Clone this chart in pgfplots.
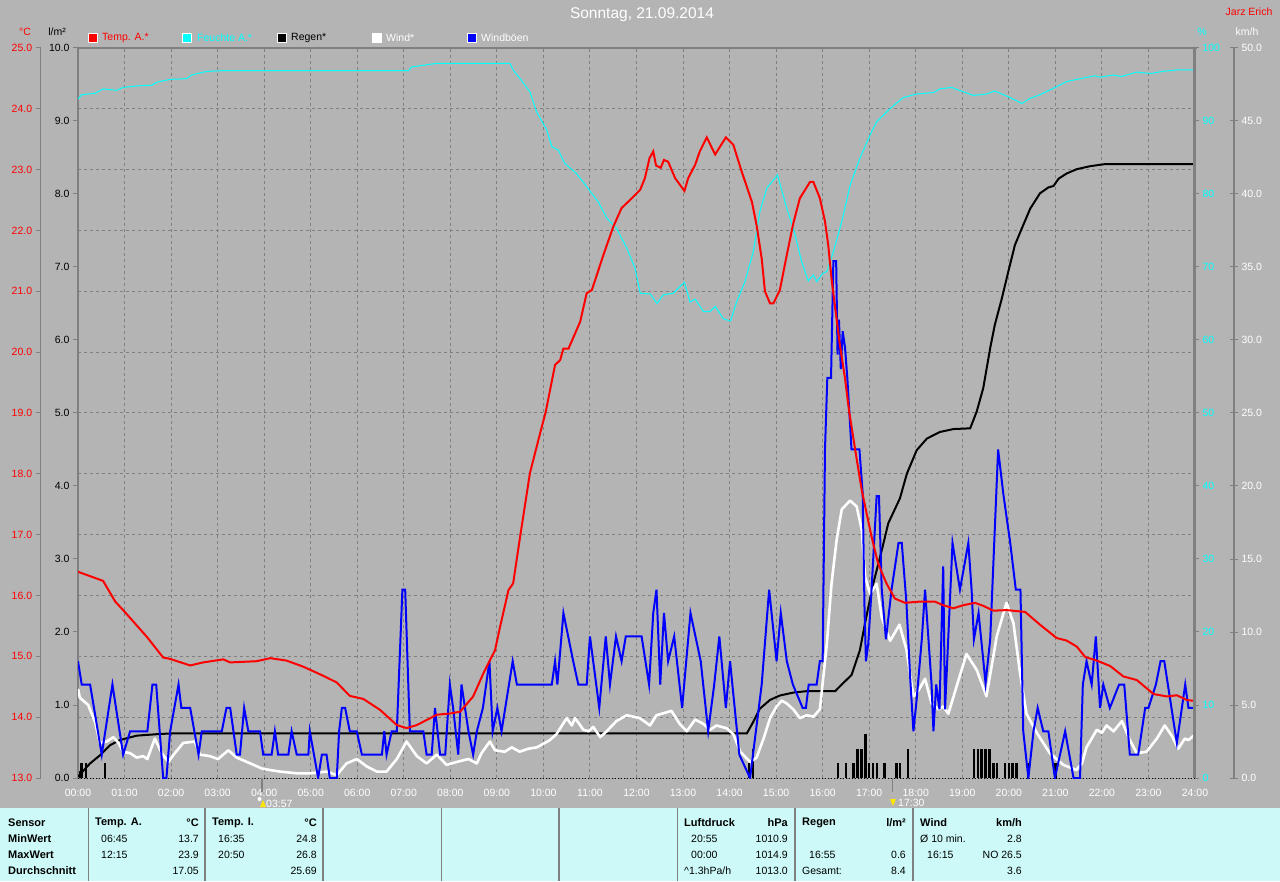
\documentclass[border=0pt]{standalone}
\usepackage{pgfplots}
\pgfplotsset{compat=1.18}
\usepackage{fontspec}
\setmainfont{Liberation Sans}

\definecolor{bg}{RGB}{180,180,180}
\definecolor{gridc}{RGB}{128,128,128}
\definecolor{tab}{RGB}{205,250,248}
\definecolor{aqua}{RGB}{0,255,255}
\definecolor{sunny}{RGB}{255,230,0}

\newcommand\fs{\fontsize{10.5}{12}\selectfont}
\newcommand\tb{\fontsize{11}{12}\selectfont\bfseries}

\pgfplotsset{
  base/.style={at={(78pt,103pt)}, anchor=south west, scale only axis,
    width=1117pt, height=730pt, xmin=0, xmax=24,
    tick label style={font=\fs}, /pgf/number format/assume math mode=true},
  onedec/.style={/pgf/number format/.cd, fixed, fixed zerofill, precision=1},
}

\begin{document}
\begin{tikzpicture}[x=1pt,y=1pt]
\fill[bg] (0,0) rectangle (1280,881);
\fill[tab] (0,0) rectangle (1280,73);
\foreach \x in {88.5,205,323,441.5,559,677.5,795,913}
  \draw[gridc,line width=1.5pt] (\x,0) -- (\x,73);

% grid (temperature scale)
\begin{axis}[base, ymin=13, ymax=25,
  xtick={0,...,24}, ytick={13,...,25}, xticklabels={}, yticklabels={},
  major tick length=0pt, axis line style={draw=none},
  grid=major, major grid style={gridc, dash pattern=on 3pt off 3pt, line width=1pt}]
\end{axis}

% rain
\begin{axis}[base, ymin=0, ymax=10,
  axis x line*=bottom, axis y line*=left,
  x axis line style={-, black, dash pattern=on 1pt off 2pt, line width=1pt},
  y axis line style={-, gridc, line width=2pt},
  xtick={0,...,24},
  xticklabels={00:00,01:00,02:00,03:00,04:00,05:00,06:00,07:00,08:00,09:00,10:00,11:00,12:00,13:00,14:00,15:00,16:00,17:00,18:00,19:00,20:00,21:00,22:00,23:00,24:00},
  xticklabel style={white, yshift=-2.5pt},
  x tick style={draw=none},
  ytick={0,...,10}, yticklabel style={black, onedec},
  y tick style={gridc, line width=1pt}, major tick length=5pt, tick align=outside]
\addplot[ycomb, black, line width=2.5pt] coordinates {
(0.04,0.1) (0.08,0.2) (0.17,0.2) (0.58,0.2)
(14.42,0.2) (14.50,0.4)
(16.333,0.2) (16.5,0.2) (16.667,0.2) (16.75,0.4) (16.833,0.4) (16.917,0.6)
(17.0,0.2) (17.083,0.2) (17.167,0.2) (17.333,0.2) (17.583,0.2) (17.667,0.2) (17.833,0.4)
(19.25,0.4) (19.333,0.4) (19.417,0.4) (19.5,0.4) (19.583,0.4) (19.667,0.2) (19.75,0.2)
(19.917,0.2) (20.0,0.2) (20.083,0.2) (20.167,0.2) (20.417,0.2) (21.0,0.2)};
\addplot[black, line width=2pt] coordinates {
(0,0.02) (0.26,0.20) (0.47,0.31) (0.69,0.45) (0.90,0.52) (1.26,0.58) (1.69,0.60) (1.98,0.61)
(14.37,0.61) (14.51,0.77) (14.65,0.95) (14.87,1.07) (15.08,1.13) (15.37,1.17) (15.66,1.19)
(16.27,1.19) (16.44,1.30) (16.62,1.41) (16.80,1.75) (16.91,2.12) (17.09,2.67) (17.27,3.12)
(17.41,3.49) (17.66,3.83) (17.81,4.17) (18.02,4.49) (18.24,4.65) (18.52,4.74) (18.81,4.78)
(19.17,4.79) (19.31,5.02) (19.45,5.34) (19.60,5.89) (19.70,6.21) (19.85,6.57) (19.99,6.94)
(20.13,7.30) (20.28,7.53) (20.46,7.80) (20.67,8.01) (20.85,8.09) (20.96,8.11) (21.07,8.21)
(21.24,8.28) (21.46,8.34) (21.74,8.38) (22.07,8.41) (23.97,8.41)};
\end{axis}

% wind and gusts
\begin{axis}[base, ymin=0, ymax=50, hide axis]
\addplot[white, line width=2.6pt, line join=round] coordinates {
(0,6.1) (0.04,5.5) (0.22,5.0) (0.37,3.8) (0.47,2.4) (0.62,2.5) (0.76,2.8) (0.87,2.4) (0.97,1.8)
(1.12,1.7) (1.26,1.4) (1.40,1.5) (1.49,1.3) (1.65,2.7) (1.80,1.7) (1.94,1.1) (2.08,1.7) (2.26,2.4)
(2.51,2.5) (2.62,1.6) (2.83,1.5) (3.01,1.3) (3.23,1.9) (3.41,1.4) (3.70,1.0) (3.95,0.65) (4.12,0.55)
(4.34,0.44) (4.70,0.32) (4.98,0.32) (5.34,0.44) (5.56,0.2) (5.77,1.0) (5.99,1.3) (6.20,0.8)
(6.42,0.44) (6.63,0.44) (6.85,1.3) (7.06,2.5) (7.28,1.5) (7.49,1.0) (7.71,1.6) (7.92,0.9) (8.14,1.1)
(8.39,1.3) (8.57,1.0) (8.67,1.7) (8.85,2.5) (8.96,1.9) (9.17,1.8) (9.32,2.1) (9.49,1.8) (9.67,2.0)
(9.86,2.1) (10.03,2.4) (10.14,2.6) (10.28,3.0) (10.50,4.1) (10.61,3.6) (10.68,4.1) (10.86,3.3)
(10.97,3.2) (11.07,3.5) (11.22,2.8) (11.36,3.2) (11.57,3.9) (11.79,4.3) (12.07,4.1) (12.29,3.6)
(12.43,4.3) (12.65,4.5) (12.75,4.6) (12.93,3.7) (13.08,3.2) (13.26,4.0) (13.44,3.7) (13.58,3.3)
(13.72,3.6) (13.94,3.4) (14.08,3.0) (14.23,1.8) (14.44,1.1) (14.58,1.4) (14.73,2.7) (14.87,4.1)
(15.01,4.9) (15.12,5.3) (15.23,5.1) (15.37,4.7) (15.51,4.1) (15.66,4.3) (15.80,4.2) (15.94,4.7)
(16.09,9.2) (16.19,13.3) (16.30,16.3) (16.41,18.4) (16.59,19.0) (16.73,18.6) (16.84,17.0)
(16.91,13.8) (17.02,12.6) (17.16,13.3) (17.27,11.0) (17.45,9.4) (17.65,10.5) (17.80,8.8)
(17.95,5.6) (18.06,6.0) (18.20,6.8) (18.34,5.1) (18.49,4.7) (18.59,4.9) (18.70,4.4) (18.88,6.3)
(19.09,8.5) (19.31,7.4) (19.52,5.6) (19.74,9.7) (19.95,12.0) (20.10,10.6) (20.24,7.2) (20.38,4.4)
(20.60,3.1) (20.88,1.7) (21.17,0.9) (21.45,0.55) (21.57,1.0) (21.67,2.1) (21.89,3.3) (22.00,3.1)
(22.10,3.6) (22.25,3.2) (22.43,3.9) (22.60,2.6) (22.75,1.7) (22.96,1.8) (23.18,2.7) (23.35,3.6)
(23.50,2.9) (23.64,2.0) (23.78,2.7) (23.86,2.6) (23.97,2.9)};
\addplot[blue, line width=2pt] coordinates {
(0,8.0) (0.08,6.4) (0.26,6.4) (0.51,1.6) (0.74,6.4) (0.97,1.6) (1.12,3.2) (1.49,3.2) (1.60,6.4)
(1.68,6.4) (1.83,0) (1.90,0) (1.98,3.2) (2.16,6.4) (2.22,4.8) (2.41,4.8) (2.59,1.6) (2.66,3.2)
(3.09,3.2) (3.19,4.8) (3.27,4.8) (3.41,1.6) (3.48,1.6) (3.57,4.8) (3.66,3.2) (3.91,3.2) (3.98,1.6)
(4.16,1.6) (4.23,3.2) (4.30,1.6) (4.52,1.6) (4.59,3.2) (4.70,1.6) (4.95,1.6) (4.98,3.2) (5.16,0)
(5.24,1.6) (5.34,1.6) (5.41,0) (5.56,0) (5.61,3.2) (5.67,4.8) (5.74,4.8) (5.84,3.2) (5.99,3.2)
(6.10,1.6) (6.53,1.6) (6.58,3.2) (6.63,1.6) (6.74,3.2) (6.85,3.2) (6.97,12.9) (7.03,12.9)
(7.13,3.2) (7.42,3.2) (7.49,1.6) (7.60,1.6) (7.67,4.8) (7.78,1.6) (7.89,1.6) (7.99,6.4)
(8.06,4.8) (8.17,1.6) (8.24,6.4) (8.39,3.2) (8.49,1.6) (8.57,3.2) (8.70,4.8) (8.84,8.0) (8.91,3.2)
(9.01,4.8) (9.10,3.2) (9.34,8.0) (9.43,6.4) (10.18,6.4) (10.25,8.0) (10.30,6.4) (10.43,11.3)
(10.64,8.0) (10.75,6.4) (10.93,6.4) (11.00,9.7) (11.20,4.8) (11.34,9.7) (11.43,6.4) (11.56,9.7)
(11.68,8.0) (11.77,9.7) (12.11,9.7) (12.27,6.4) (12.36,11.3) (12.43,12.9) (12.51,6.4) (12.59,11.3)
(12.68,8.0) (12.81,9.7) (12.98,4.8) (13.16,11.3) (13.38,8.0) (13.54,3.2) (13.67,6.4) (13.78,9.7)
(13.92,4.8) (14.01,8.0) (14.21,1.6) (14.44,0) (14.69,6.4) (14.85,12.9) (15.01,8.0) (15.10,11.3)
(15.23,8.0) (15.36,6.4) (15.57,4.8) (15.64,4.8) (15.70,6.4) (15.87,6.4) (15.94,8.0) (16.00,8.0)
(16.05,22.5) (16.10,27.4) (16.18,27.4) (16.23,35.4) (16.29,35.4) (16.32,29.0) (16.35,31.4)
(16.39,28.0) (16.43,30.6) (16.48,29.5) (16.53,27.4) (16.62,22.5) (16.79,22.5) (16.86,19.5)
(16.90,11.5) (16.93,8.0) (16.98,9.2) (17.05,12.9) (17.16,19.3) (17.21,19.3) (17.27,12.9)
(17.36,9.5) (17.48,12.9) (17.63,16.1) (17.70,16.1) (17.80,12.0) (17.88,6.9) (17.95,3.2)
(18.02,5.4) (18.13,9.5) (18.20,12.9) (18.34,6.4) (18.38,3.2) (18.44,6.4) (18.51,4.7) (18.59,14.5)
(18.63,4.7) (18.79,16.1) (18.95,12.9) (19.13,16.1) (19.20,12.9) (19.25,9.5) (19.35,11.3)
(19.50,6.5) (19.60,9.5) (19.77,22.5) (19.88,19.5) (20.03,16.1) (20.15,12.9) (20.25,12.9)
(20.31,3.2) (20.42,0) (20.53,3.2) (20.62,4.8) (20.74,3.2) (20.85,3.2) (20.99,0) (21.21,3.2)
(21.39,0) (21.53,0) (21.59,6.4) (21.67,8.0) (21.78,6.4) (21.87,9.7) (21.96,4.8) (22.03,6.4)
(22.17,4.8) (22.37,6.4) (22.48,6.4) (22.60,1.6) (22.78,1.6) (22.93,4.8) (23.00,4.8) (23.16,6.4)
(23.26,8.0) (23.34,8.0) (23.61,2.4) (23.79,6.4) (23.86,4.8) (23.97,4.8)};
\end{axis}

% humidity
\begin{axis}[base, ymin=0, ymax=100,
  axis x line=none, axis y line*=right,
  y axis line style={-, gridc, line width=2.5pt},
  ytick={0,10,...,100}, yticklabel style={aqua},
  y tick style={gridc, line width=1pt}, major tick length=4pt, tick align=outside]
\addplot[aqua, line width=1pt] coordinates {
(0,93.0) (0.08,93.6) (0.37,93.8) (0.54,94.4) (0.83,94.2) (0.97,94.6) (1.26,94.8) (1.58,94.9)
(1.69,95.3) (1.98,95.7) (2.34,95.8) (2.44,96.3) (2.77,96.8) (3.12,96.9) (7.10,96.9) (7.17,97.4)
(7.49,97.7) (7.71,97.9) (9.28,97.9) (9.35,97.0) (9.50,95.8) (9.71,94.0) (9.85,91.3) (10.07,88.8)
(10.18,86.5) (10.32,86.0) (10.46,84.2) (10.71,82.8) (10.93,81.0) (11.18,78.9) (11.36,76.7)
(11.57,75.3) (11.79,72.6) (11.97,69.8) (12.08,66.4) (12.30,66.3) (12.44,65.0) (12.58,66.2)
(12.79,66.4) (13.03,67.9) (13.15,65.2) (13.26,65.6) (13.44,63.9) (13.58,63.9) (13.69,64.6)
(13.87,62.9) (14.02,62.6) (14.15,65.2) (14.33,68.0) (14.51,72.1) (14.65,77.6) (14.80,80.8)
(15.03,82.6) (15.23,78.0) (15.37,75.3) (15.55,70.7) (15.69,68.1) (15.80,68.9) (15.87,68.0)
(16.00,69.1) (16.09,69.4) (16.23,72.1) (16.41,76.2) (16.59,81.2) (16.80,84.9) (17.02,88.1)
(17.16,89.9) (17.45,91.7) (17.73,93.2) (18.02,93.7) (18.38,93.9) (18.52,94.4) (18.77,94.6)
(19.02,94.0) (19.24,93.5) (19.52,93.7) (19.70,94.1) (20.03,93.2) (20.28,92.4) (20.46,93.1)
(20.67,93.6) (21.03,94.7) (21.24,95.4) (21.46,95.7) (21.85,96.2) (21.96,96.0) (22.24,96.3)
(22.42,96.1) (22.75,96.7) (23.04,96.5) (23.32,96.8) (23.61,97.0) (23.97,97.0)};
\end{axis}

% temperature
\begin{axis}[base, ymin=13, ymax=25, hide axis]
\addplot[red, line width=2pt] coordinates {
(0,16.39) (0.54,16.24) (0.80,15.90) (0.97,15.76) (1.48,15.32) (1.83,14.98) (1.97,14.96)
(2.41,14.85) (2.69,14.90) (3.12,14.95) (3.27,14.90) (3.84,14.92) (4.13,14.97) (4.48,14.93)
(4.84,14.83) (5.27,14.68) (5.56,14.57) (5.84,14.35) (6.13,14.30) (6.49,14.12) (6.85,13.87)
(7.06,13.82) (7.28,13.87) (7.71,14.04) (7.99,14.06) (8.21,14.09) (8.49,14.34) (8.71,14.72)
(8.96,15.10) (9.07,15.49) (9.25,16.09) (9.35,16.20) (9.50,16.97) (9.71,18.01) (9.93,18.67)
(10.05,19.02) (10.25,19.79) (10.36,19.87) (10.43,20.06) (10.54,20.06) (10.79,20.50) (10.93,20.97)
(11.04,21.02) (11.29,21.60) (11.50,22.06) (11.68,22.37) (11.90,22.53) (12.08,22.67) (12.18,22.86)
(12.28,23.19) (12.36,23.30) (12.42,23.07) (12.52,23.03) (12.59,23.16) (12.68,23.13) (12.83,22.86)
(13.03,22.65) (13.11,22.86) (13.26,23.08) (13.36,23.30) (13.51,23.53) (13.69,23.25) (13.92,23.53)
(14.08,23.41) (14.26,22.97) (14.48,22.47) (14.58,22.09) (14.69,21.54) (14.76,21.00) (14.87,20.80)
(14.94,20.80) (15.08,21.02) (15.23,21.60) (15.37,22.12) (15.51,22.53) (15.73,22.80) (15.80,22.80)
(15.94,22.53) (16.05,22.15) (16.12,21.76) (16.19,21.21) (16.26,20.78) (16.37,20.12) (16.48,19.57)
(16.57,19.02) (16.70,18.39) (16.84,17.73) (17.05,16.97) (17.19,16.53) (17.37,16.20) (17.55,15.95)
(17.77,15.88) (18.09,15.90) (18.41,15.90) (18.59,15.84) (18.81,15.79) (19.02,15.84) (19.27,15.88)
(19.45,15.83) (19.67,15.75) (19.95,15.76) (20.35,15.73) (20.67,15.52) (21.03,15.30) (21.24,15.26)
(21.46,15.16) (21.64,14.99) (21.89,14.93) (22.18,14.84) (22.46,14.67) (22.75,14.61) (23.11,14.38)
(23.40,14.34) (23.61,14.36) (23.83,14.28) (23.97,14.27)};
\end{axis}

% temperature scale
\begin{axis}[at={(40.7pt,103pt)}, anchor=south west, scale only axis,
  width=0.5pt, height=730pt, xmin=0, xmax=1, ymin=13, ymax=25,
  axis x line=none, axis y line=left, y axis line style={-, gridc, line width=1.5pt},
  ytick={13,...,25}, yticklabel style={red, onedec}, tick label style={font=\fs},
  /pgf/number format/assume math mode=true,
  y tick style={gridc, line width=1pt}, major tick length=5pt, tick align=outside]
\end{axis}

% km/h scale
\begin{axis}[at={(1234pt,103pt)}, anchor=south east, scale only axis,
  width=0.5pt, height=730pt, xmin=0, xmax=1, ymin=0, ymax=50,
  axis x line=none, axis y line=right, y axis line style={-, gridc, line width=1.5pt},
  ytick={0,5,...,50}, yticklabel style={white, onedec}, tick label style={font=\fs},
  /pgf/number format/assume math mode=true,
  y tick style={gridc, line width=1pt}, major tick length=8pt, tick align=center]
\end{axis}

% frame
\draw[gridc, line width=2.5pt] (76.8,833) -- (1197,833);
\draw[gridc, line width=1pt] (1193,103) -- (1193,833);

% legend
\filldraw[fill=red, draw=white, line width=0.8pt] (88,838.5) rectangle (97,847.5);
\node[anchor=west, red, font=\fs, inner sep=0] at (102,843) {Temp. A.*};
\filldraw[fill=aqua, draw=white, line width=0.8pt] (182,838.5) rectangle (191,847.5);
\node[anchor=west, aqua, font=\fs, inner sep=0] at (197,843) {Feuchte A.*};
\filldraw[fill=black, draw=white, line width=0.8pt] (277,838.5) rectangle (286,847.5);
\node[anchor=west, black, font=\fs, inner sep=0] at (291,843) {Regen*};
\filldraw[fill=white, draw=white, line width=0.8pt] (372,838.5) rectangle (381,847.5);
\node[anchor=west, white, font=\fs, inner sep=0] at (386,843) {Wind*};
\filldraw[fill=blue, draw=white, line width=0.8pt] (467,838.5) rectangle (476,847.5);
\node[anchor=west, white, font=\fs, inner sep=0] at (481,843) {Windböen};

% headings and units
\node[white, font=\fontsize{15.5}{18}\selectfont] at (642,866) {Sonntag, 21.09.2014};
\node[red, font=\fs] at (1249,869) {Jarz Erich};
\node[red, font=\fs] at (25,849) {°C};
\node[black, font=\fs] at (57,849) {l/m²};
\node[aqua, font=\fs] at (1202,849) {\%};
\node[white, font=\fs] at (1247,849) {km/h};

% sunrise / sunset
\draw[gridc, line width=1.5pt] (261.8,103) -- (261.8,89);
\fill[white] (259.5,82) circle (2pt);
\fill[sunny] (260,74) -- (266,74) -- (263,81) -- cycle;
\node[anchor=west, white, font=\fs, inner sep=0] at (266,77) {03:57};
\draw[gridc, line width=1.5pt] (892.5,103) -- (892.5,89);
\fill[sunny] (890,82) -- (896,82) -- (893,75) -- cycle;
\node[anchor=west, white, font=\fs, inner sep=0] at (898,78) {17:30};

% table
\foreach \y/\t in {58.3/Sensor,42/MinWert,26.3/MaxWert,10.3/Durchschnitt}
  \node[anchor=west, inner sep=0, font=\tb] at (8,\y) {\t};
\node[anchor=west, inner sep=0, font=\tb] at (95,58.3) {Temp. A.};
\node[anchor=east, inner sep=0, font=\tb] at (199,58.3) {°C};
\node[anchor=west, inner sep=0, font=\fs] at (101,42) {06:45};
\node[anchor=east, inner sep=0, font=\fs] at (199,42) {13.7};
\node[anchor=west, inner sep=0, font=\fs] at (101,26.3) {12:15};
\node[anchor=east, inner sep=0, font=\fs] at (199,26.3) {23.9};
\node[anchor=east, inner sep=0, font=\fs] at (199,10.3) {17.05};
\node[anchor=west, inner sep=0, font=\tb] at (212,58.3) {Temp. I.};
\node[anchor=east, inner sep=0, font=\tb] at (317,58.3) {°C};
\node[anchor=west, inner sep=0, font=\fs] at (218,42) {16:35};
\node[anchor=east, inner sep=0, font=\fs] at (317,42) {24.8};
\node[anchor=west, inner sep=0, font=\fs] at (218,26.3) {20:50};
\node[anchor=east, inner sep=0, font=\fs] at (317,26.3) {26.8};
\node[anchor=east, inner sep=0, font=\fs] at (317,10.3) {25.69};
\node[anchor=west, inner sep=0, font=\tb] at (684,58.3) {Luftdruck};
\node[anchor=east, inner sep=0, font=\tb] at (788,58.3) {hPa};
\node[anchor=west, inner sep=0, font=\fs] at (691,42) {20:55};
\node[anchor=east, inner sep=0, font=\fs] at (788,42) {1010.9};
\node[anchor=west, inner sep=0, font=\fs] at (691,26.3) {00:00};
\node[anchor=east, inner sep=0, font=\fs] at (788,26.3) {1014.9};
\node[anchor=west, inner sep=0, font=\fs] at (684,10.3) {\textasciicircum1.3hPa/h};
\node[anchor=east, inner sep=0, font=\fs] at (788,10.3) {1013.0};
\node[anchor=west, inner sep=0, font=\tb] at (802,58.3) {Regen};
\node[anchor=east, inner sep=0, font=\tb] at (906,58.3) {l/m²};
\node[anchor=west, inner sep=0, font=\fs] at (809,26.3) {16:55};
\node[anchor=east, inner sep=0, font=\fs] at (906,26.3) {0.6};
\node[anchor=west, inner sep=0, font=\fs] at (802,10.3) {Gesamt:};
\node[anchor=east, inner sep=0, font=\fs] at (906,10.3) {8.4};
\node[anchor=west, inner sep=0, font=\tb] at (920,58.3) {Wind};
\node[anchor=east, inner sep=0, font=\tb] at (1022,58.3) {km/h};
\node[anchor=west, inner sep=0, font=\fs] at (920,42) {Ø 10 min.};
\node[anchor=east, inner sep=0, font=\fs] at (1022,42) {2.8};
\node[anchor=west, inner sep=0, font=\fs] at (927,26.3) {16:15};
\node[anchor=east, inner sep=0, font=\fs] at (1022,26.3) {NO 26.5};
\node[anchor=east, inner sep=0, font=\fs] at (1022,10.3) {3.6};
\end{tikzpicture}
\end{document}
